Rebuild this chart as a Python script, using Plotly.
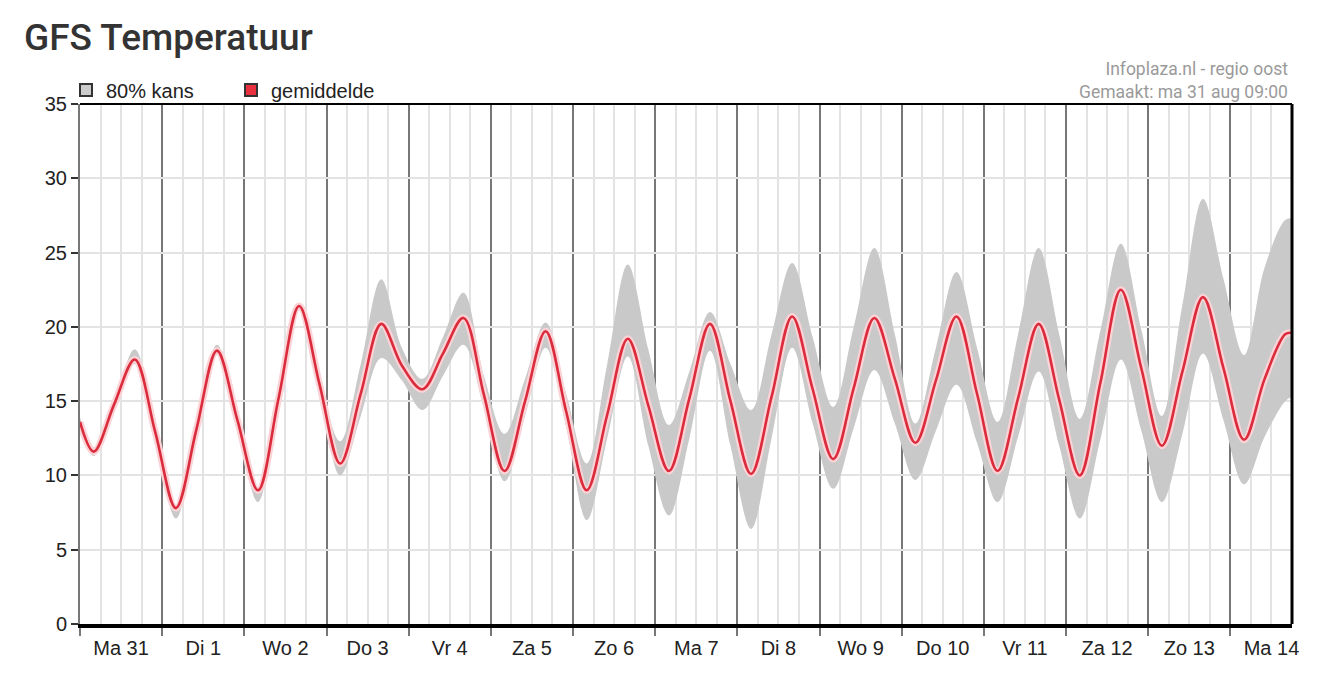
import plotly.graph_objects as go

# ---------------------------------------------------------------------------
# data (hours after Ma 31 00:00)

hours = [0, 4, 10, 16, 22,
         28, 34, 40, 46,
         52, 58, 64, 70,
         76, 82, 88, 94,
         100, 106, 112, 118,
         124, 130, 136, 142,
         148, 154, 160, 166,
         172, 178, 184, 190,
         196, 202, 208, 214,
         220, 226, 232, 238,
         244, 250, 256, 262,
         268, 274, 280, 286,
         292, 298, 304, 310,
         316, 322, 328, 334,
         340, 346, 352, 354]

mean_temp = [13.6, 11.6, 14.8, 17.8, 12.9,
             7.8, 13.1, 18.4, 13.7,
             9.0, 15.2, 21.4, 16.1,
             10.8, 15.5, 20.2, 17.4,
             15.8, 18.2, 20.6, 15.4,
             10.3, 15.0, 19.7, 14.3,
             9.0, 14.1, 19.2, 14.7,
             10.3, 15.2, 20.2, 15.0,
             10.1, 15.3, 20.7, 15.8,
             11.1, 15.9, 20.6, 16.5,
             12.2, 16.4, 20.7, 15.5,
             10.3, 15.2, 20.2, 15.1,
             10.0, 16.2, 22.5, 17.2,
             12.0, 17.0, 22.0, 17.2,
             12.4, 16.5, 19.5, 19.6]

upper_80 = [13.9, 11.9, 15.0, 18.5, 13.2,
            8.0, 13.4, 18.8, 14.0,
            9.2, 15.4, 21.6, 16.4,
            12.3, 17.5, 23.2, 18.6,
            16.5, 19.3, 22.3, 16.7,
            12.8, 16.5, 20.3, 15.5,
            10.8, 17.5, 24.2, 18.5,
            13.4, 17.0, 21.0, 17.5,
            14.4, 19.5, 24.3, 19.3,
            14.6, 20.0, 25.3, 19.5,
            13.5, 18.6, 23.7, 18.6,
            13.6, 19.5, 25.3, 19.5,
            13.8, 19.7, 25.6, 19.8,
            14.0, 21.5, 28.6, 23.2,
            18.1, 24.0, 27.2, 27.3]

lower_80 = [13.4, 11.3, 14.6, 17.5, 12.6,
            7.1, 12.8, 18.1, 13.2,
            8.2, 14.8, 21.1, 15.6,
            10.0, 14.0, 17.9, 16.4,
            14.4, 16.7, 18.8, 14.5,
            9.6, 14.0, 18.6, 13.3,
            7.0, 12.5, 18.0, 12.0,
            7.3, 12.5, 18.4, 12.0,
            6.4, 12.5, 18.6, 13.5,
            9.1, 13.2, 17.1, 13.5,
            9.7, 13.0, 16.1, 12.2,
            8.2, 12.6, 17.0, 12.0,
            7.1, 12.4, 17.8, 13.0,
            8.2, 12.8, 18.2, 13.7,
            9.4, 12.6, 15.0, 15.3]

day_labels = ["Ma 31", "Di 1", "Wo 2", "Do 3", "Vr 4", "Za 5", "Zo 6", "Ma 7",
              "Di 8", "Wo 9", "Do 10", "Vr 11", "Za 12", "Zo 13", "Ma 14"]
day_centers = [12 + 24 * i for i in range(len(day_labels))]

# ---------------------------------------------------------------------------

RED = "#da2c3c"
BAND = "#c9c9c9"
TEXT = "#222222"

# page body has an 8px margin, so the figure is a bit smaller than the window
W, H = 1323, 683
OFF = 8
PLOT_LEFT, PLOT_RIGHT = 80, 1292
PLOT_TOP, PLOT_BOTTOM = 104, 624

fig = go.Figure()

# 80% band
fig.add_trace(go.Scatter(x=hours, y=lower_80, mode="lines", line=dict(width=0, shape="spline"),
                         showlegend=False, hoverinfo="skip"))
fig.add_trace(go.Scatter(x=hours, y=upper_80, mode="lines", line=dict(width=0, shape="spline"),
                         fill="tonexty", fillcolor=BAND, showlegend=False, hoverinfo="skip"))

# mean line with light halo
fig.add_trace(go.Scatter(x=hours, y=mean_temp, mode="lines",
                         line=dict(color="#fbd3d6", width=7, shape="spline"),
                         showlegend=False, hoverinfo="skip"))
fig.add_trace(go.Scatter(x=hours, y=mean_temp, mode="lines",
                         line=dict(color=RED, width=2.6, shape="spline"),
                         showlegend=False))

# legend entries (square swatches)
fig.add_trace(go.Scatter(x=[None], y=[None], mode="markers", name="80% kans",
                         marker=dict(symbol="square", size=15, color="#cccccc",
                                     line=dict(color="#333333", width=1.5))))
fig.add_trace(go.Scatter(x=[None], y=[None], mode="markers", name="gemiddelde",
                         marker=dict(symbol="square", size=15, color="#e8303f",
                                     line=dict(color="#333333", width=1.5))))

# day labels on an overlaid axis
fig.add_trace(go.Scatter(x=day_centers, y=[None] * len(day_centers), xaxis="x2",
                         mode="markers", showlegend=False, hoverinfo="skip"))


def cy(py):
    # screen pixel row -> container fraction
    return 1 - (py - OFF) / H


def py_paper(py):
    # screen pixel row -> paper fraction of the plot area
    return 1 + (PLOT_TOP - py) / (PLOT_BOTTOM - PLOT_TOP)


fig.update_layout(
    width=W, height=H,
    margin=dict(l=PLOT_LEFT - OFF, r=W + OFF - PLOT_RIGHT, t=PLOT_TOP - OFF,
                b=H + OFF - PLOT_BOTTOM, autoexpand=False),
    paper_bgcolor="white", plot_bgcolor="white",
    font=dict(family="Liberation Sans, Arial", size=20, color=TEXT),
    title=dict(text="GFS Temperatuur", x=16 / W, xanchor="left", xref="container",
               y=cy(37), yanchor="middle",
               font=dict(family="Roboto", size=37, color="#333333", weight=500)),
    showlegend=True,
    legend=dict(orientation="h", traceorder="normal",
                xref="container", x=(66 - OFF) / W, xanchor="left",
                yref="container", y=cy(90), yanchor="middle",
                font=dict(size=20, color=TEXT), bgcolor="rgba(0,0,0,0)",
                itemsizing="constant", entrywidth=120, itemwidth=30),
    xaxis=dict(range=[0, 354], tickmode="linear", tick0=0, dtick=24, automargin=False,
               showticklabels=False, ticks="outside", ticklen=8, tickwidth=2,
               tickcolor="#777777",
               showgrid=True, gridcolor="#777777", gridwidth=2,
               minor=dict(dtick=6, tick0=0, showgrid=True, gridcolor="#e3e3e3",
                          gridwidth=2, ticks=""),
               showline=True, linecolor="black", linewidth=4,
               zeroline=False, fixedrange=True),
    xaxis2=dict(range=[0, 354], overlaying="x", anchor="y", side="bottom", automargin=False,
                tickmode="array", tickvals=day_centers, ticktext=day_labels,
                ticks="", ticklabelstandoff=10, showgrid=False, showline=False,
                zeroline=False, tickfont=dict(size=20, color=TEXT), fixedrange=True),
    yaxis=dict(range=[0, 35], tickmode="linear", tick0=0, dtick=5, automargin=False,
               ticks="outside", ticklen=7, tickwidth=2, tickcolor="#333333",
               showgrid=True, gridcolor="#e3e3e3", gridwidth=2,
               showline=True, linecolor="#777777", linewidth=2,
               zeroline=False, tickfont=dict(size=20, color=TEXT), fixedrange=True),
    shapes=[
        dict(type="line", xref="paper", yref="paper", x0=0, x1=1, y0=1, y1=1,
             line=dict(color="black", width=2)),
        dict(type="line", xref="paper", yref="paper", x0=1, x1=1, y0=0, y1=1,
             line=dict(color="black", width=3)),
    ],
    annotations=[
        dict(text="Infoplaza.nl - regio oost<br>Gemaakt: ma 31 aug 09:00",
             xref="paper", yref="paper", align="right",
             x=1.0, xshift=-2, y=py_paper(81), xanchor="right", yanchor="middle",
             showarrow=False, font=dict(family="Roboto", size=17.5, color="#9a9a9a")),
    ],
)

fig.write_html("out.html")
